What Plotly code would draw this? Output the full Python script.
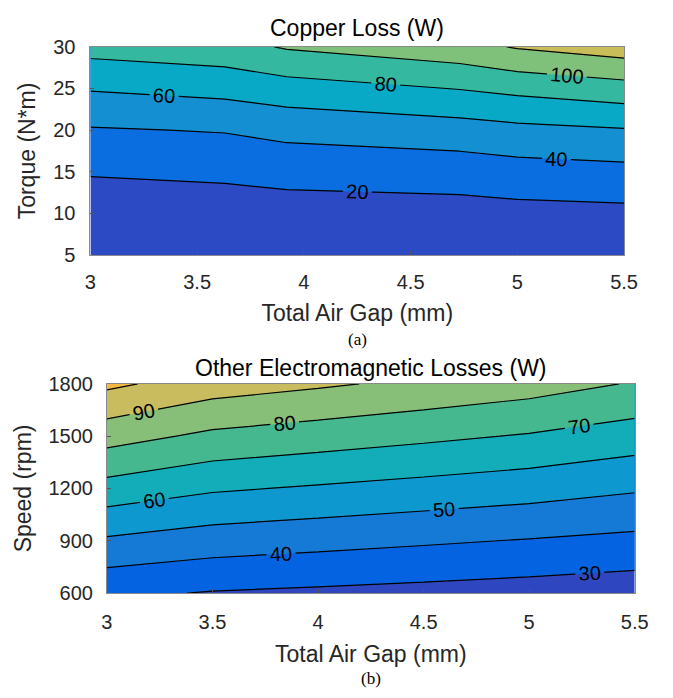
import plotly.graph_objects as go

# ---------------- data ----------------
# (a) Copper loss
gap_a = [3.0, 3.63, 3.92, 4.73, 5.0, 5.5]
torque = [5, 10, 15, 20, 25, 30]
copper_loss = [
    [2.4, 2.6, 2.9, 3.2, 3.5, 3.8],
    [9.6, 10.4, 11.5, 12.6, 14.0, 15.3],
    [21.4, 23.75, 26.4, 29.0, 31.9, 34.4],
    [38.3, 41.2, 45.9, 51.3, 54.9, 58.6],
    [61.5, 66.5, 71.4, 80.7, 85.2, 92.3],
    [87.2, 92.5, 101.9, 112.9, 121.6, 130.2],
]

# (b) Other electromagnetic losses
gap_b = [3.0, 3.5, 4.0, 4.5, 5.0, 5.5]
speed = [600, 900, 1200, 1500, 1800]
em_loss = [
    [31.9, 29.4, 28.2, 27.0, 25.75, 24.2],
    [48.6, 45.1, 43.2, 41.3, 39.45, 37.6],
    [66.2, 61.25, 58.9, 56.6, 54.3, 51.1],
    [84.0, 77.9, 75.0, 72.1, 69.2, 65.2],
    [102.1, 94.9, 91.4, 87.8, 84.3, 79.25],
]

x_ticks = [3, 3.5, 4, 4.5, 5, 5.5]
x_ticklabels = ["3", "3.5", "4", "4.5", "5", "5.5"]
torque_ticks = [5, 10, 15, 20, 25, 30]
speed_ticks = [600, 900, 1200, 1500, 1800]

colors_a = ["#2c4ac4", "#0a6ee0", "#1490d2", "#07a9c6", "#34b8a0", "#7fc07a", "#c9bd5a"]
colors_b = ["#2e47c0", "#0463e0", "#1579d6", "#0d98d0", "#12adb8", "#45b890",
            "#88bf78", "#c8bc5e", "#f5b840"]


def stepped(colors):
    n = len(colors) - 1
    scale = []
    for k, c in enumerate(colors):
        lo = max(0.0, (k - 0.5) / n)
        hi = min(1.0, (k + 0.5) / n)
        scale.append([lo, c])
        scale.append([hi, c])
    return scale


FONT = "Liberation Sans, Arial, sans-serif"
TXT = "#262626"

fig = go.Figure()

fig.add_trace(go.Contour(
    x=gap_a, y=torque, z=copper_loss,
    xaxis="x", yaxis="y",
    autocontour=False,
    contours=dict(start=20, end=120, size=20, coloring="fill", showlabels=True,
                  labelfont=dict(size=20, color="black", family=FONT)),
    colorscale=stepped(colors_a), zmin=10, zmax=130,
    line=dict(color="black", width=1.2, smoothing=0),
    showscale=False, hoverinfo="x+y+z",
))

fig.add_trace(go.Contour(
    x=gap_b, y=speed, z=em_loss,
    xaxis="x2", yaxis="y2",
    autocontour=False,
    contours=dict(start=30, end=100, size=10, coloring="fill", showlabels=True,
                  labelfont=dict(size=20, color="black", family=FONT)),
    colorscale=stepped(colors_b), zmin=25, zmax=105,
    line=dict(color="black", width=1.2, smoothing=0),
    showscale=False, hoverinfo="x+y+z",
))

W, H = 673, 698
ax_common = dict(
    showline=True, linecolor="#8a8a8a", linewidth=1, mirror=True,
    ticks="inside", ticklen=4, tickcolor="#555555",
    showgrid=False, zeroline=False,
    tickfont=dict(size=20, color=TXT, family=FONT),
    title_font=dict(size=23, color=TXT, family=FONT),
)

fig.update_layout(
    width=W, height=H,
    margin=dict(l=0, r=0, t=0, b=0),
    paper_bgcolor="white", plot_bgcolor="white",
    font=dict(family=FONT, color=TXT),
    showlegend=False,
    xaxis=dict(domain=[87 / W, 637 / W], range=[3, 5.5], anchor="y",
               tickvals=x_ticks, ticktext=x_ticklabels, ticklabelstandoff=9,
               title=dict(text="Total Air Gap (mm)", standoff=12), **ax_common),
    yaxis=dict(domain=[1 - 252 / H, 1 - 37 / H], range=[5, 30], anchor="x",
               tickvals=torque_ticks, ticklabelstandoff=10,
               title=dict(text="Torque (N*m)", standoff=11), **ax_common),
    xaxis2=dict(domain=[104 / W, 648 / W], range=[3, 5.5], anchor="y2",
                tickvals=x_ticks, ticktext=x_ticklabels, ticklabelstandoff=11,
                title=dict(text="Total Air Gap (mm)", standoff=13), **ax_common),
    yaxis2=dict(domain=[1 - 601 / H, 1 - 385 / H], range=[600, 1800], anchor="x2",
                tickvals=speed_ticks, ticklabelstandoff=9,
                title=dict(text="Speed (rpm)", standoff=10), **ax_common),
    annotations=[
        dict(text="Copper Loss (W)", x=362 / W, y=1 - 18 / H, xref="paper", yref="paper",
             showarrow=False, font=dict(size=23, color="black", family=FONT),
             xanchor="center", yanchor="middle"),
        dict(text="Other Electromagnetic Losses (W)", x=376 / W, y=1 - 369 / H,
             xref="paper", yref="paper", showarrow=False,
             font=dict(size=23, color="black", family=FONT),
             xanchor="center", yanchor="middle"),
        dict(text="(a)", x=362 / W, y=1 - 339 / H, xref="paper", yref="paper",
             showarrow=False, font=dict(size=17, color="black",
                                        family="Liberation Serif, Times New Roman, serif"),
             xanchor="center", yanchor="middle"),
        dict(text="(b)", x=376 / W, y=1 - 689 / H, xref="paper", yref="paper",
             showarrow=False, font=dict(size=17, color="black",
                                        family="Liberation Serif, Times New Roman, serif"),
             xanchor="center", yanchor="middle"),
    ],
)

fig.write_html("out.html")
